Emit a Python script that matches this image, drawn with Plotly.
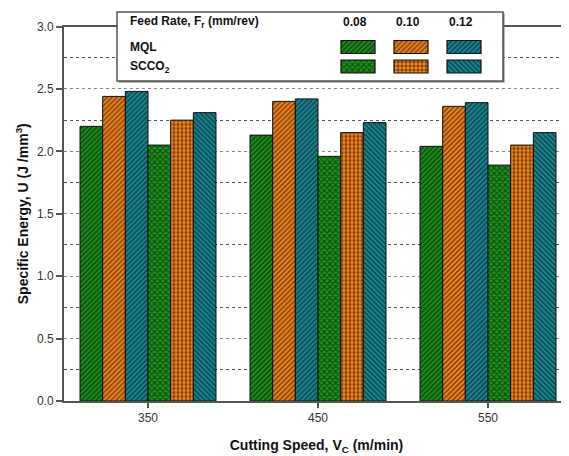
import plotly.graph_objects as go

# ---------------- data ----------------
speeds = [350, 450, 550]
feed_labels = ["0.08", "0.10", "0.12"]
mql_008 = [2.20, 2.13, 2.04]
mql_010 = [2.44, 2.40, 2.36]
mql_012 = [2.48, 2.42, 2.39]
sc_008 = [2.05, 1.96, 1.89]
sc_010 = [2.25, 2.15, 2.05]
sc_012 = [2.31, 2.23, 2.15]

# ---------------- styles ----------------
GREEN = "#1e961e"
ORANGE = "#ff8a1c"
TEAL = "#1a8e9a"
FONT = "Liberation Sans, Arial, sans-serif"

series = [
    (mql_008, GREEN, "/"),
    (mql_010, ORANGE, "/"),
    (mql_012, TEAL, "/"),
    (sc_008, GREEN, "x"),
    (sc_010, ORANGE, "."),
    (sc_012, TEAL, "\\"),
]


def pattern(shp):
    return dict(shape=shp, fgcolor="#000000", size=4 if shp in ("x", ".") else 3.5,
                solidity=0.5 if shp != "." else 0.55, fillmode="overlay")


PAGE = 8  # default body margin of the html page
W, H = 569 - PAGE, 456 - PAGE
ML, MR, MT, MB = 56, 0, 0, 55
plot_top_px = 18.5
paper_h = H - MT - MB
ydom_top = (paper_h - plot_top_px) / paper_h

bar_w = 13.333
group_w = bar_w * 6

fig = go.Figure()
for i, (vals, col, shp) in enumerate(series):
    fig.add_trace(go.Bar(
        x=speeds, y=vals, width=bar_w, offset=-group_w / 2 + i * bar_w,
        marker=dict(color=col, line=dict(color="#111111", width=1), pattern=pattern(shp)),
        showlegend=False, hoverinfo="skip", xaxis="x", yaxis="y"))

# ---------------- custom legend (separate full-paper axes in screen pixel units) ----------------
box_x0, box_x1, box_y0, box_y1 = 117, 503, 12, 81
fig.add_trace(go.Bar(x=[(box_x0 + box_x1) / 2 + 1.5], y=[box_y1 - box_y0], base=[box_y0 + 1.5],
                     width=[box_x1 - box_x0], marker=dict(color="#777777", line=dict(width=0)),
                     xaxis="x2", yaxis="y2", showlegend=False, hoverinfo="skip"))
fig.add_trace(go.Bar(x=[(box_x0 + box_x1) / 2], y=[box_y1 - box_y0], base=[box_y0],
                     width=[box_x1 - box_x0], marker=dict(color="white", line=dict(color="#555555", width=1.5)),
                     xaxis="x2", yaxis="y2", showlegend=False, hoverinfo="skip"))
sw_cx = [358, 411, 464]
sw_w, sw_h = 34, 13
row_y = [40.5, 60]
for i, (vals, col, shp) in enumerate(series):
    r, c = divmod(i, 3)
    fig.add_trace(go.Bar(
        x=[sw_cx[c]], y=[sw_h], base=[row_y[r]], width=[sw_w],
        marker=dict(color=col, line=dict(color="#111111", width=1.2), pattern=pattern(shp)),
        xaxis="x2", yaxis="y2", showlegend=False, hoverinfo="skip"))

ann = []
tfont = dict(family=FONT, size=12, color="#111111")
ann.append(dict(x=128, y=22, xref="x2", yref="y2", xanchor="left", yanchor="middle",
                text="<b>Feed Rate, F<sub>r</sub> (mm/rev)</b>", showarrow=False, font=tfont))
for c, lab in enumerate(feed_labels):
    ann.append(dict(x=sw_cx[c] - 3, y=22, xref="x2", yref="y2", xanchor="center", yanchor="middle",
                    text="<b>%s</b>" % lab, showarrow=False, font=tfont))
ann.append(dict(x=128, y=47, xref="x2", yref="y2", xanchor="left", yanchor="middle",
                text="<b>MQL</b>", showarrow=False, font=tfont))
ann.append(dict(x=128, y=67, xref="x2", yref="y2", xanchor="left", yanchor="middle",
                text="<b>SCCO<sub>2</sub></b>", showarrow=False, font=tfont))

x0 = 350 - (148 - PAGE - ML) / 1.7
x1 = x0 + (W - ML - MR) / 1.7

fig.update_layout(
    width=W, height=H, margin=dict(l=ML, r=MR, t=MT, b=MB, pad=0, autoexpand=False),
    paper_bgcolor="white", plot_bgcolor="rgba(0,0,0,0)",
    barmode="overlay", annotations=ann,
    font=dict(family=FONT, size=12, color="#333333"),
    xaxis=dict(range=[x0, x1], domain=[0, 1], tickvals=speeds, ticktext=[str(s) for s in speeds],
               automargin=False,
               showgrid=False, zeroline=False, showline=True, linecolor="#555555", linewidth=2,
               mirror=True, ticks="outside", ticklen=5, tickwidth=1.5, tickcolor="#555555",
               tickfont=dict(family=FONT, size=12, color="#333333"),
               title=dict(text="<b>Cutting Speed, V<sub>C</sub> (m/min)</b>",
                          font=dict(family=FONT, size=14, color="#111111"), standoff=16)),
    yaxis=dict(range=[0, 3.0], domain=[0, ydom_top], dtick=0.5, tickformat=".1f",
               automargin=False,
               showgrid=True, gridcolor="#888888", griddash="dot", gridwidth=1,
               minor=dict(dtick=0.25, showgrid=True, gridcolor="#555555", griddash="dot", gridwidth=1),
               zeroline=False, showline=True, linecolor="#555555", linewidth=2,
               ticks="outside", ticklen=6, tickwidth=1.5, tickcolor="#555555",
               tickfont=dict(family=FONT, size=12, color="#333333"),
               title=dict(text="<b>Specific Energy, U (J /mm<sup>3</sup>)</b>",
                          font=dict(family=FONT, size=14, color="#111111"), standoff=5)),
    xaxis2=dict(range=[ML + PAGE, W + PAGE - MR], domain=[0, 1], anchor="y2",
                visible=False, fixedrange=True, automargin=False, showgrid=False),
    yaxis2=dict(range=[paper_h + PAGE, PAGE], domain=[0, 1], anchor="x2",
                visible=False, fixedrange=True, automargin=False, showgrid=False),
)

fig.write_html("out.html")
